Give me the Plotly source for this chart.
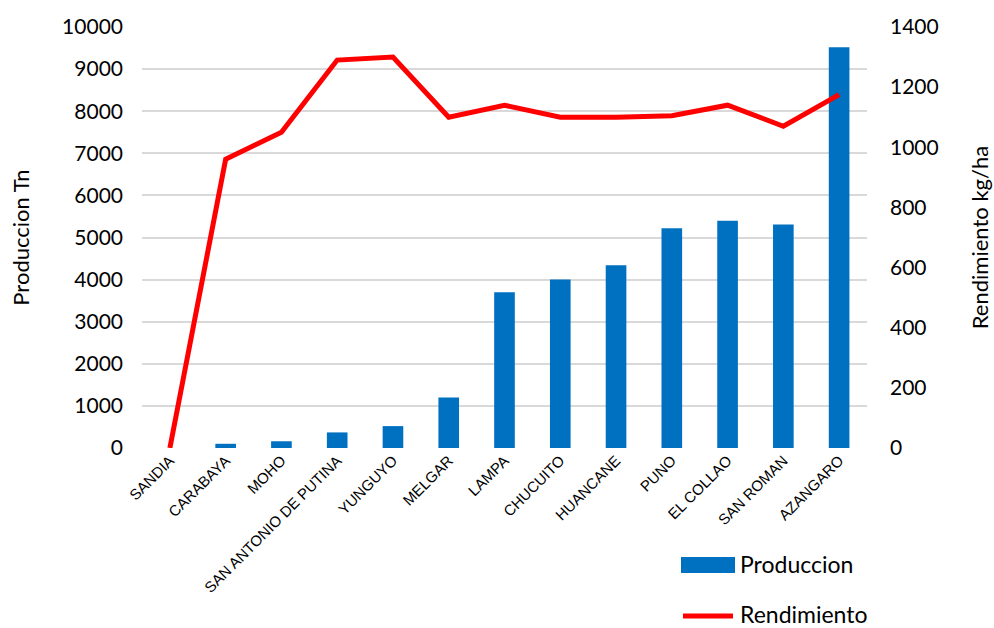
import plotly.graph_objects as go

provincias = ["SANDIA", "CARABAYA", "MOHO", "SAN ANTONIO DE PUTINA", "YUNGUYO", "MELGAR",
              "LAMPA", "CHUCUITO", "HUANCANE", "PUNO", "EL COLLAO", "SAN ROMAN", "AZANGARO"]
produccion = [0, 100, 160, 370, 520, 1200, 3700, 4000, 4340, 5220, 5400, 5310, 9520]
rendimiento = [0, 960, 1050, 1290, 1300, 1100, 1140, 1100, 1100, 1105, 1140, 1070, 1175]

prod_ticks = list(range(0, 10001, 1000))
rend_ticks = list(range(0, 1401, 200))

BLUE = "#0070C0"
RED = "#FF0000"
NUM_FONT = dict(family="Lato, 'Open Sans', sans-serif", size=21, color="#000000")
TITLE_FONT = dict(family="Lato, 'Open Sans', sans-serif", size=22, color="#000000")

fig = go.Figure()
fig.add_trace(go.Bar(x=provincias, y=produccion, name="Produccion",
                     marker=dict(color=BLUE, line=dict(width=0)), yaxis="y"))
fig.add_trace(go.Scatter(x=provincias, y=rendimiento, name="Rendimiento", mode="lines",
                         line=dict(color=RED, width=5), yaxis="y2"))

fig.update_layout(
    width=994, height=628,
    margin=dict(l=142, r=127, t=27, b=180),
    paper_bgcolor="white", plot_bgcolor="white",
    bargap=0.63,
    showlegend=False,
    xaxis=dict(
        tickangle=-45, automargin=False,
        tickfont=dict(family="'Liberation Sans', Arial, sans-serif", size=15, color="#000000"),
        showgrid=False, showline=False, zeroline=False, ticks="",
    ),
    yaxis=dict(
        range=[0, 10000], tickvals=prod_ticks, ticktext=[str(v) for v in prod_ticks],
        tickfont=NUM_FONT, showgrid=True, gridcolor="#D9D9D9", gridwidth=1.5,
        zeroline=False, showline=False, ticks="", ticklabelstandoff=18, automargin=False,
        title=dict(text="Produccion Tn", font=TITLE_FONT, standoff=26),
    ),
    yaxis2=dict(
        range=[0, 1400], tickvals=rend_ticks, ticktext=[str(v) for v in rend_ticks],
        overlaying="y", side="right", tickfont=NUM_FONT, automargin=False,
        showgrid=False, zeroline=False, showline=False, ticks="", ticklabelstandoff=22,
        title=dict(text="Rendimiento kg/ha", font=TITLE_FONT, standoff=34),
    ),
)

# Legend drawn as shapes and labels below the plot area, on the right
def px_to_paper_x(px):
    return (px - 142) / 725

def px_to_paper_y(py):
    return (448 - py) / 421

fig.add_shape(type="rect", xref="paper", yref="paper",
              x0=px_to_paper_x(681), x1=px_to_paper_x(735),
              y0=px_to_paper_y(573), y1=px_to_paper_y(557),
              fillcolor=BLUE, line=dict(width=0))
fig.add_shape(type="line", xref="paper", yref="paper",
              x0=px_to_paper_x(683), x1=px_to_paper_x(733),
              y0=px_to_paper_y(616), y1=px_to_paper_y(616),
              line=dict(color=RED, width=5))
for label, py in [("Produccion", 564), ("Rendimiento", 614)]:
    fig.add_annotation(text=label, xref="paper", yref="paper",
                       x=px_to_paper_x(738), y=px_to_paper_y(py),
                       xanchor="left", yanchor="middle", showarrow=False,
                       font=dict(family="Lato, 'Open Sans', sans-serif", size=23, color="#000000"))

fig.write_html("out.html")
